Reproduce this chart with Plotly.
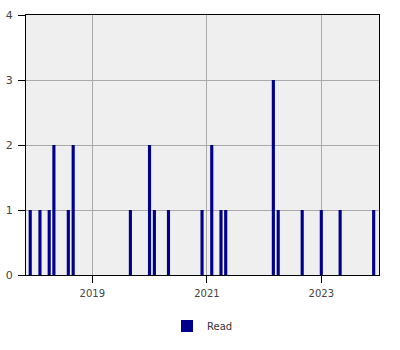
import plotly.graph_objects as go

months = ["2017-12-01", "2018-02-01", "2018-04-01", "2018-05-01", "2018-08-01", "2018-09-01",
          "2019-09-01", "2020-01-01", "2020-02-01", "2020-05-01", "2020-12-01", "2021-02-01",
          "2021-04-01", "2021-05-01", "2022-03-01", "2022-04-01", "2022-09-01", "2023-01-01",
          "2023-05-01", "2023-12-01"]
read_counts = [1, 1, 1, 2, 1, 2, 1, 2, 1, 1, 1, 2, 1, 1, 3, 1, 1, 1, 1, 1]
year_ticks = ["2019-01-01", "2021-01-01", "2023-01-01"]
year_labels = ["2019", "2021", "2023"]

DAY_MS = 86400000

fig = go.Figure(go.Bar(
    x=months, y=read_counts, name="Read",
    marker=dict(color="#00008b", line=dict(width=0)),
    width=[20 * DAY_MS] * len(months),
    showlegend=True,
))

axis_font = dict(family="DejaVu Sans", size=10, color="#444444")
fig.update_layout(
    width=400, height=350,
    margin=dict(l=26, r=21, t=15, b=75, autoexpand=False),
    paper_bgcolor="white",
    plot_bgcolor="#efefef",
    font=axis_font,
    showlegend=True,
    legend=dict(orientation="h", x=0.5, xanchor="center",
                yref="container", y=(350 - 326) / 350, yanchor="middle",
                font=dict(family="DejaVu Sans", size=10, color="#333333")),
    xaxis=dict(
        type="date", range=["2017-11-04", "2024-01-04"],
        tickmode="array", tickvals=year_ticks, ticktext=year_labels,
        showgrid=True, gridcolor="#aaaaaa", gridwidth=1,
        showline=True, linecolor="black", linewidth=1, mirror=True,
        ticks="outside", ticklen=7, tickcolor="black", ticklabelstandoff=2,
        tickfont=axis_font, zeroline=False,
    ),
    yaxis=dict(
        range=[0, 4], dtick=1, tick0=0,
        showgrid=True, gridcolor="#aaaaaa", gridwidth=1,
        showline=True, linecolor="black", linewidth=1, mirror=True,
        ticks="outside", ticklen=7, tickcolor="black", ticklabelstandoff=3,
        tickfont=dict(family="DejaVu Sans", size=11, color="#444444"), zeroline=False,
    ),
)

fig.write_html("out.html")
